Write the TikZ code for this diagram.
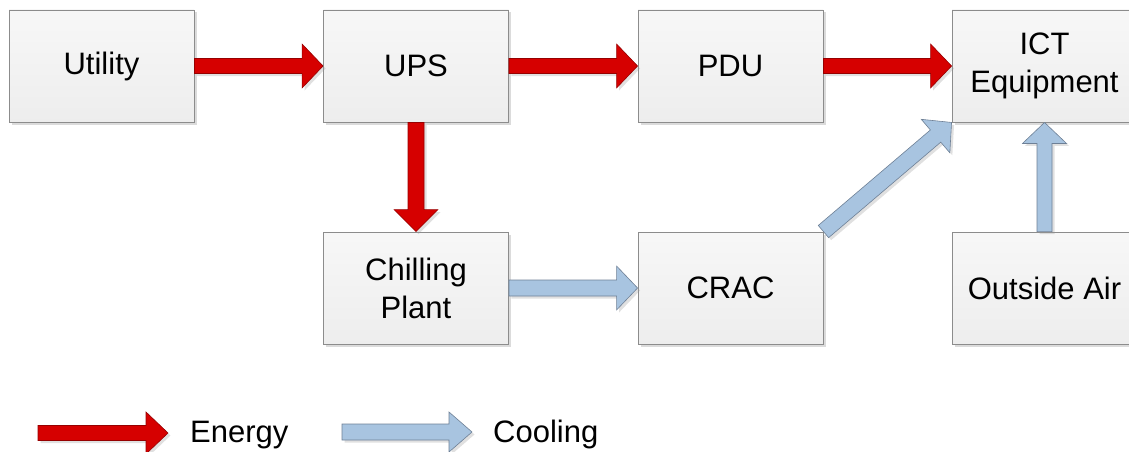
\documentclass[tikz,border=0pt]{standalone}
\usepackage{fontspec}
\setmainfont{Liberation Sans}
\usetikzlibrary{calc,shadows}
\definecolor{boxline}{RGB}{140,140,140}
\definecolor{redfill}{RGB}{214,0,0}
\definecolor{redline}{RGB}{150,0,0}
\definecolor{bluefill}{RGB}{168,196,224}
\definecolor{blueline}{RGB}{110,128,150}
\tikzset{
  blockbox/.style={draw=boxline, line width=0.9pt, top color=white!97!black, bottom color=black!7,
    minimum width=185pt, minimum height=112pt, inner sep=0pt, align=center,
    font=\fontsize{31}{38}\selectfont,
    drop shadow={shadow xshift=2.5pt, shadow yshift=-2.5pt, opacity=0.35, fill=black!40}},
  energy/.style={fill=redfill, draw=redline, line width=0.6pt,
    drop shadow={shadow xshift=2.5pt, shadow yshift=-2.5pt, opacity=0.3, fill=black!40}},
  cooling/.style={fill=bluefill, draw=blueline, line width=0.6pt,
    drop shadow={shadow xshift=2.5pt, shadow yshift=-2.5pt, opacity=0.3, fill=black!40}},
  legendtext/.style={anchor=base west, inner sep=0pt, font=\fontsize{31}{38}\selectfont}
}
% #1 style, #2 from, #3 to, #4 shaft half width, #5 head half width, #6 head length
\newcommand\barrow[6]{%
  \coordinate (hb) at ($(#3)!#6!(#2)$);
  \path[#1] ($(#2)!#4!90:(#3)$) -- ($(hb)!#4!90:(#3)$) -- ($(hb)!#5!90:(#3)$) -- (#3)
    -- ($(hb)!#5!-90:(#3)$) -- ($(hb)!#4!-90:(#3)$) -- ($(#2)!#4!-90:(#3)$) -- cycle;
}
\begin{document}
\begin{tikzpicture}[x=1pt,y=-1pt]
\useasboundingbox (0,0) rectangle (1129,452);
\clip (0,0) rectangle (1129,452);
\node[blockbox] (util) at (101.5,66) {Utility};
\node[blockbox] (ups) at (416,66) {UPS};
\node[blockbox] (pdu) at (730.5,66) {PDU};
\node[blockbox] (ict) at (1044.5,66) {ICT\\Equipment};
\node[blockbox] (chill) at (416,288) {Chilling\\Plant};
\node[blockbox] (crac) at (730.5,288) {CRAC};
\node[blockbox] (air) at (1044.5,288) {Outside Air};

\barrow{energy}{util.east}{ups.west}{7.5pt}{22pt}{21pt}
\barrow{energy}{ups.east}{pdu.west}{7.5pt}{22pt}{21pt}
\barrow{energy}{pdu.east}{ict.west}{7.5pt}{22pt}{21pt}
\barrow{energy}{ups.south}{chill.north}{8pt}{22pt}{22pt}
\barrow{cooling}{chill.east}{crac.west}{8pt}{22pt}{21pt}
\barrow{cooling}{crac.north east}{ict.south west}{8pt}{22pt}{21pt}
\barrow{cooling}{air.north}{ict.south}{7.5pt}{22pt}{21pt}

\coordinate (e1) at (38,433);
\coordinate (e2) at (168,433);
\coordinate (c1) at (342,432);
\coordinate (c2) at (472,432);
\barrow{energy}{e1}{e2}{7.5pt}{21pt}{22pt}
\barrow{cooling}{c1}{c2}{8pt}{20pt}{23pt}
\node[legendtext] (etext) at (190,442) {Energy};
\node[legendtext] (ctext) at (493,442) {Cooling};
\end{tikzpicture}
\end{document}
